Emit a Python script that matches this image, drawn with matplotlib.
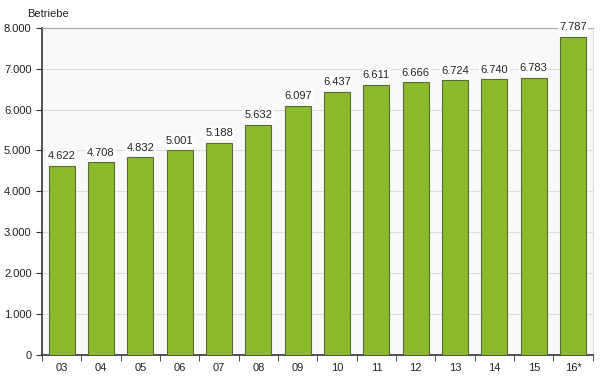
import matplotlib
matplotlib.use("Agg")
import matplotlib.pyplot as plt
import matplotlib.ticker as mticker
import numpy as np

years = ["03", "04", "05", "06", "07", "08", "09", "10", "11", "12", "13", "14", "15", "16*"]
betriebe = [4622, 4708, 4832, 5001, 5188, 5632, 6097, 6437, 6611, 6666, 6724, 6740, 6783, 7787]

def de_fmt(v):
    return f"{v:,.0f}".replace(",", ".")

plt.rcParams["font.family"] = ["Liberation Sans", "DejaVu Sans"]

fig = plt.figure(figsize=(6, 3.87), dpi=100)
ax = fig.add_axes([0.07, 0.083, 0.918, 0.845])
ax.set_facecolor("#f9f9f9")

x = np.arange(len(years))
bars = ax.bar(x, betriebe, width=0.66, color="#8bba2c", edgecolor="#5a6a3a", linewidth=0.8, zorder=3)
for b, v in zip(bars, betriebe):
    ax.text(b.get_x() + b.get_width() / 2, v + 110, de_fmt(v), ha="center", va="bottom",
            fontsize=8, color="#222222", zorder=4,
            bbox=dict(facecolor="white", edgecolor="none", pad=1))

ax.set_xlim(-0.5, len(years) - 0.5)
ax.set_ylim(0, 8000)
ax.yaxis.set_major_locator(mticker.MultipleLocator(1000))
ax.yaxis.set_major_formatter(mticker.FuncFormatter(lambda v, p: de_fmt(v)))
ax.grid(axis="y", color="#dcdcdc", linewidth=0.8, zorder=0)
ax.set_xticks(x)
ax.set_xticklabels(years)
ax.set_xticks(np.arange(-0.5, len(years)), minor=True)
ax.tick_params(axis="x", which="major", length=0, pad=6, labelsize=8, colors="#222222")
ax.tick_params(axis="x", which="minor", length=4, direction="out", color="#333333")
ax.tick_params(axis="y", length=4, direction="out", labelsize=8, colors="#222222", color="#333333")

ax.spines["left"].set_color("#333333")
ax.spines["left"].set_linewidth(1.2)
ax.spines["bottom"].set_color("#333333")
ax.spines["bottom"].set_linewidth(1.2)
ax.spines["top"].set_color("#aaaaaa")
ax.spines["right"].set_color("#dddddd")

fig.text(0.045, 0.965, "Betriebe", fontsize=8, color="#222222", va="center")

plt.savefig("out.png", dpi=100)
plt.close()
